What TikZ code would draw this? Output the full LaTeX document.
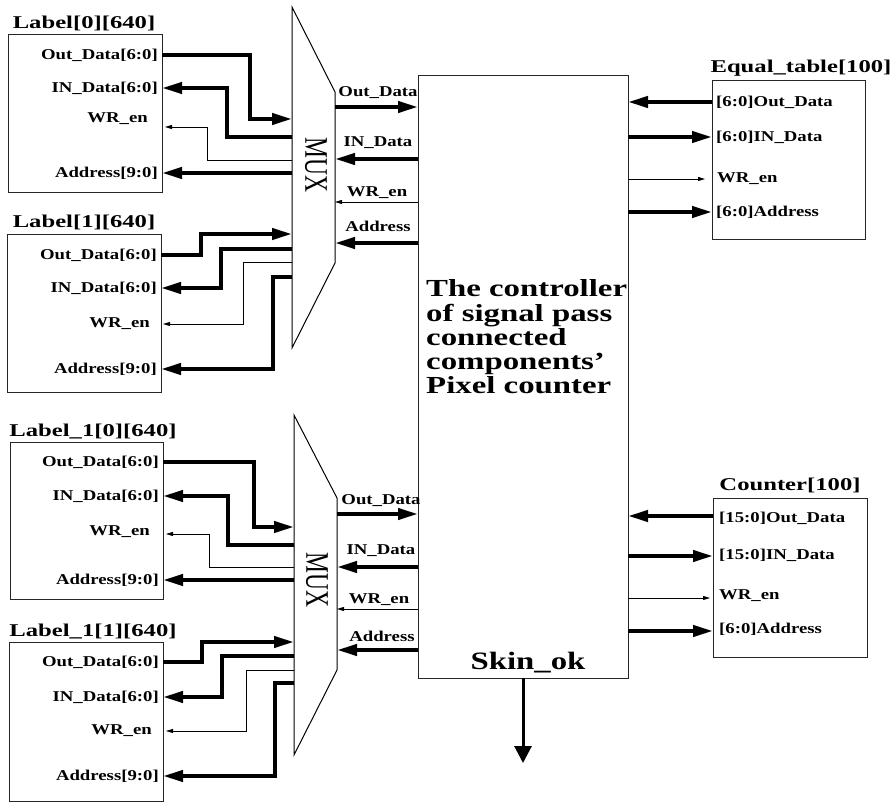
\documentclass[tikz,border=0pt]{standalone}
\usepackage{fontspec}
\setmainfont{Liberation Serif}
\newfontfamily\portserif{Liberation Serif}[FakeStretch=1.25]
\newfontfamily\titleserif{Liberation Serif}[FakeStretch=1.37]
\newfontfamily\bigserif{Liberation Serif}[FakeStretch=1.34]
\newfontfamily\okserif{Liberation Serif}[FakeStretch=1.31]
\usetikzlibrary{arrows.meta}

\tikzset{
  blockbox/.style={draw=black!85, line width=1pt, outer sep=0pt, inner sep=0pt, anchor=north west},
  blocktitle/.style={font=\titleserif\bfseries\fontsize{18}{20}\selectfont, inner sep=0pt},
  portlbl/.style={font=\portserif\bfseries\fontsize{15}{17}\selectfont, inner sep=0pt},
  bigtxt/.style={font=\bigserif\bfseries\fontsize{24.5}{24.3}\selectfont, inner sep=0pt, align=left},
  bus/.style={line width=4pt, -{Triangle[length=20pt,width=11pt]}},
  sig/.style={line width=0.9pt, -{Triangle[length=7pt,width=4pt]}},
  muxshape/.style={draw=black, line width=1pt, line join=miter},
  muxtxt/.style={font=\fontsize{23.5}{26}\selectfont, rotate=-90, inner sep=0pt}
}

\begin{document}
\begin{tikzpicture}[x=1pt, y=-1pt]
\useasboundingbox (0,0) rectangle (895,802);

% ---------- Label[0][640] ----------
\node[blockbox, minimum width=154pt, minimum height=158pt] (L0) at (8,35) {};
\node[blocktitle] (L0t) at (84,23) {Label[0][640]};
\node[portlbl, anchor=east] (L0o) at (158,55) {Out\_Data[6:0]};
\node[portlbl, anchor=east] (L0i) at (158,88) {IN\_Data[6:0]};
\node[portlbl, anchor=east] (L0w) at (148,119) {WR\_en};
\node[portlbl, anchor=east] (L0a) at (158,173) {Address[9:0]};
\draw[bus] (L0.east |- L0o) -| (250,119) -- (292,119);
\draw[bus] (292,137) -| (227,88) -- (L0.east |- L0i);
\draw[sig] (292,160) -| (207,127) -- (165,127);
\draw[bus] (292,173) -- (L0.east |- L0a);

% ---------- Label[1][640] ----------
\node[blockbox, minimum width=154pt, minimum height=158pt] (L1) at (7,235) {};
\node[blocktitle] (L1t) at (84,222) {Label[1][640]};
\node[portlbl, anchor=east] (L1o) at (157,255) {Out\_Data[6:0]};
\node[portlbl, anchor=east] (L1i) at (157,288) {IN\_Data[6:0]};
\node[portlbl, anchor=east] (L1w) at (150,324) {WR\_en};
\node[portlbl, anchor=east] (L1a) at (157,369) {Address[9:0]};
\draw[bus] (L1.east |- L1o) -| (201,234) -- (292,234);
\draw[bus] (292,249) -| (221,288) -- (L1.east |- L1i);
\draw[sig] (292,262) -| (243,324) -- (163,324);
\draw[bus] (292,277) -| (273,369) -- (L1.east |- L1a);

% ---------- upper multiplexer ----------
\draw[muxshape] (292,7) coordinate (M1a) -- (335,92) coordinate (M1b)
  -- (335,263) coordinate (M1c) -- (292,348) coordinate (M1d) -- cycle;
\node[muxtxt] (M1) at (316,165) {\scalebox{1}[1.4]{MUX}};

% ---------- controller ----------
\node[blockbox, minimum width=210pt, minimum height=602pt] (C) at (418,76) {};
\node[bigtxt, anchor=west] (Ct) at (426,337) {The controller\\of signal pass\\connected\\components’\\Pixel counter};
\node[font=\okserif\bfseries\fontsize{25}{27}\selectfont, inner sep=0pt] (Sk) at (528,663) {Skin\_ok};
\draw[line width=3pt, -{Triangle[length=17pt,width=17pt]}] (C.south -| 523,0) -- (523,763);

% upper multiplexer <-> controller
\node[portlbl] (m1o) at (378,93) {Out\_Data};
\node[portlbl] (m1i) at (378,143) {IN\_Data};
\node[portlbl] (m1w) at (377,193) {WR\_en};
\node[portlbl] (m1a) at (378,226) {Address};
\draw[bus] (M1b |- 0,107) -- (C.west |- 0,107);
\draw[bus] (C.west |- 0,159) -- (M1b |- 0,159);
\draw[sig] (C.west |- 0,202) -- (M1b |- 0,202);
\draw[bus] (C.west |- 0,243) -- (M1b |- 0,243);

% ---------- Equal_table[100] ----------
\node[blockbox, minimum width=153pt, minimum height=159pt] (E) at (712,81) {};
\node[blocktitle] (Et) at (801,68) {Equal\_table[100]};
\node[portlbl, anchor=west] (Eo) at (716,102) {[6:0]Out\_Data};
\node[portlbl, anchor=west] (Ei) at (716,137) {[6:0]IN\_Data};
\node[portlbl, anchor=west] (Ew) at (717,179) {WR\_en};
\node[portlbl, anchor=west] (Ea) at (716,212) {[6:0]Address};
\draw[bus] (E.west |- Eo) -- (C.east |- Eo);
\draw[bus] (C.east |- Ei) -- (E.west |- Ei);
\draw[sig] (C.east |- Ew) -- (705,179);
\draw[bus] (C.east |- Ea) -- (E.west |- Ea);

% ---------- Counter[100] ----------
\node[blockbox, minimum width=154pt, minimum height=159pt] (K) at (713,498) {};
\node[blocktitle] (Kt) at (790,485) {Counter[100]};
\node[portlbl, anchor=west] (Ko) at (719,518) {[15:0]Out\_Data};
\node[portlbl, anchor=west] (Ki) at (719,555) {[15:0]IN\_Data};
\node[portlbl, anchor=west] (Kw) at (719,596) {WR\_en};
\node[portlbl, anchor=west] (Ka) at (719,629) {[6:0]Address};
\draw[bus] (K.west |- 0,516) -- (C.east |- 0,516);
\draw[bus] (C.east |- 0,556) -- (K.west |- 0,556);
\draw[sig] (C.east |- 0,598) -- (710,598);
\draw[bus] (C.east |- 0,631) -- (K.west |- 0,631);

% ---------- Label_1[0][640] ----------
\node[blockbox, minimum width=153pt, minimum height=156pt] (B0) at (10,443) {};
\node[blocktitle] (B0t) at (93,432) {Label\_1[0][640]};
\node[portlbl, anchor=east] (B0o) at (159,462) {Out\_Data[6:0]};
\node[portlbl, anchor=east] (B0i) at (159,496) {IN\_Data[6:0]};
\node[portlbl, anchor=east] (B0w) at (150,532) {WR\_en};
\node[portlbl, anchor=east] (B0a) at (159,580) {Address[9:0]};
\draw[bus] (B0.east |- B0o) -| (254,527) -- (294,527);
\draw[bus] (294,545) -| (228,496) -- (B0.east |- B0i);
\draw[sig] (294,567) -| (209,534) -- (166,534);
\draw[bus] (294,580) -- (B0.east |- B0a);

% ---------- Label_1[1][640] ----------
\node[blockbox, minimum width=154pt, minimum height=159pt] (B1) at (9,642) {};
\node[blocktitle] (B1t) at (93,632) {Label\_1[1][640]};
\node[portlbl, anchor=east] (B1o) at (159,662) {Out\_Data[6:0]};
\node[portlbl, anchor=east] (B1i) at (159,697) {IN\_Data[6:0]};
\node[portlbl, anchor=east] (B1w) at (152,731) {WR\_en};
\node[portlbl, anchor=east] (B1a) at (159,776) {Address[9:0]};
\draw[bus] (B1.east |- B1o) -| (202,642) -- (294,642);
\draw[bus] (294,656) -| (222,697) -- (B1.east |- B1i);
\draw[sig] (294,670) -| (246,731) -- (166,731);
\draw[bus] (294,683) -| (275,776) -- (B1.east |- B1a);

% ---------- lower multiplexer ----------
\draw[muxshape] (294,415) coordinate (M2a) -- (337,498) coordinate (M2b)
  -- (337,670) coordinate (M2c) -- (294,755) coordinate (M2d) -- cycle;
\node[muxtxt] (M2) at (317,580) {\scalebox{1}[1.4]{MUX}};

% lower multiplexer <-> controller
\node[portlbl] (m2o) at (381,501) {Out\_Data};
\node[portlbl] (m2i) at (381,551) {IN\_Data};
\node[portlbl] (m2w) at (379,600) {WR\_en};
\node[portlbl] (m2a) at (382,636) {Address};
\draw[bus] (M2b |- 0,514) -- (C.west |- 0,514);
\draw[bus] (C.west |- 0,567) -- (M2b |- 0,567);
\draw[sig] (C.west |- 0,609) -- (M2b |- 0,609);
\draw[bus] (C.west |- 0,650) -- (M2b |- 0,650);
\end{tikzpicture}
\end{document}
